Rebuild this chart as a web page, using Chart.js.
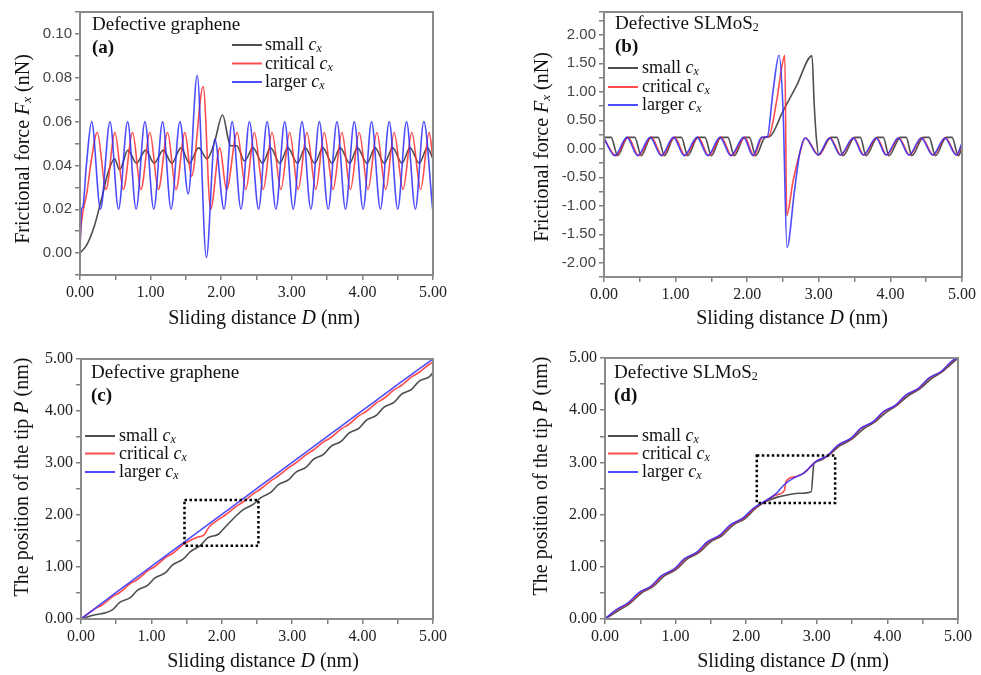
<!DOCTYPE html>
<html>
<head>
<meta charset="utf-8">
<script src="https://cdn.jsdelivr.net/npm/chart.js@4.4.1/dist/chart.umd.min.js"></script>
<style>
  body { margin: 0; background: #fff; width: 981px; height: 675px; position: relative; overflow: hidden; }
  canvas { position: absolute; }
</style>
</head>
<body>
<canvas id="chartA" width="490" height="330" style="left:0;top:0"></canvas>
<canvas id="chartB" width="491" height="330" style="left:490px;top:0"></canvas>
<canvas id="chartC" width="490" height="345" style="left:0;top:330px"></canvas>
<canvas id="chartD" width="491" height="345" style="left:490px;top:330px"></canvas>
<script>
// (a) frictional force, defective graphene
const aSmallD = [0, 0.1, 0.2, 0.3, 0.4, 0.49, 0.56, 0.68, 0.8, 0.93, 1.05, 1.18, 1.3, 1.43, 1.55, 1.68, 1.8, 1.9, 2.02, 2.1, 2.13, 2.22, 2.33, 2.45, 2.585, 2.7, 2.83, 2.945, 3.08, 3.19, 3.325, 3.44, 3.57, 3.685, 3.82, 3.93, 4.065, 4.18, 4.31, 4.43, 4.56, 4.675, 4.805, 4.92, 5.0];
const aSmallF = [0, 0.004, 0.012, 0.024, 0.037, 0.043, 0.038, 0.047, 0.041, 0.047, 0.041, 0.047, 0.041, 0.048, 0.041, 0.048, 0.043, 0.05, 0.063, 0.052, 0.049, 0.049, 0.042, 0.048, 0.041, 0.048, 0.041, 0.048, 0.041, 0.048, 0.041, 0.048, 0.041, 0.048, 0.041, 0.048, 0.041, 0.048, 0.041, 0.048, 0.041, 0.048, 0.041, 0.048, 0.043];
const aCritD = [0, 0.02, 0.1, 0.15, 0.245, 0.368, 0.495, 0.613, 0.745, 0.863, 0.99, 1.11, 1.24, 1.36, 1.486, 1.58, 1.745, 1.85, 1.98, 2.075, 2.226, 2.35, 2.47, 2.595, 2.72, 2.845, 2.97, 3.09, 3.215, 3.34, 3.46, 3.585, 3.71, 3.83, 3.955, 4.08, 4.205, 4.33, 4.45, 4.575, 4.70, 4.825, 4.945, 5.0];
const aCritF = [0.005, 0.014, 0.028, 0.04, 0.055, 0.029, 0.055, 0.029, 0.055, 0.029, 0.055, 0.029, 0.055, 0.029, 0.055, 0.035, 0.076, 0.02, 0.048, 0.029, 0.055, 0.029, 0.055, 0.029, 0.055, 0.029, 0.055, 0.029, 0.055, 0.029, 0.055, 0.029, 0.055, 0.029, 0.055, 0.029, 0.055, 0.029, 0.055, 0.029, 0.055, 0.029, 0.055, 0.043];
const aLargeD = [0, 0.02, 0.04, 0.09, 0.165, 0.29, 0.425, 0.545, 0.675, 0.795, 0.92, 1.045, 1.17, 1.29, 1.415, 1.533, 1.66, 1.79, 1.91, 2.04, 2.155, 2.28, 2.40, 2.53, 2.65, 2.775, 2.90, 3.02, 3.145, 3.27, 3.39, 3.515, 3.64, 3.76, 3.885, 4.01, 4.13, 4.255, 4.38, 4.50, 4.625, 4.75, 4.87, 4.995];
const aLargeF = [0, 0.02, 0.021, 0.04, 0.06, 0.02, 0.06, 0.02, 0.06, 0.02, 0.06, 0.02, 0.06, 0.02, 0.06, 0.027, 0.081, -0.002, 0.052, 0.02, 0.06, 0.02, 0.06, 0.02, 0.06, 0.02, 0.06, 0.02, 0.06, 0.02, 0.06, 0.02, 0.06, 0.02, 0.06, 0.02, 0.06, 0.02, 0.06, 0.02, 0.06, 0.02, 0.06, 0.02];

// (b) frictional force, defective SLMoS2
const bSmallD = [0, 0.1, 0.19, 0.33, 0.43, 0.52, 0.655, 0.755, 0.845, 0.98, 1.08, 1.17, 1.31, 1.41, 1.5, 1.63, 1.73, 1.82, 1.96, 2.03, 2.12, 2.25, 2.31, 2.5, 2.69, 2.905, 2.935, 2.966, 3.0, 3.17, 3.25, 3.34, 3.5, 3.58, 3.66, 3.82, 3.9, 3.98, 4.14, 4.22, 4.3, 4.46, 4.54, 4.63, 4.78, 4.86, 4.95, 5.0];
const bSmallF = [0.2, 0.2, -0.12, 0.2, 0.2, -0.12, 0.2, 0.2, -0.12, 0.2, 0.2, -0.12, 0.2, 0.2, -0.12, 0.2, 0.2, -0.12, 0.2, 0.2, -0.12, 0.2, 0.21, 0.66, 1.11, 1.63, 0.8, 0.19, -0.1, 0.2, 0.2, -0.12, 0.2, 0.2, -0.12, 0.2, 0.2, -0.12, 0.2, 0.2, -0.12, 0.2, 0.2, -0.12, 0.2, 0.2, -0.12, 0.02];
const bCritD = [0, 0.165, 0.335, 0.485, 0.66, 0.815, 0.985, 1.135, 1.315, 1.465, 1.635, 1.785, 1.965, 2.095, 2.21, 2.3, 2.41, 2.48, 2.525, 2.552, 2.64, 2.73, 2.815, 3.0, 3.16, 3.31, 3.49, 3.63, 3.81, 3.95, 4.12, 4.27, 4.44, 4.6, 4.77, 4.93, 5.0];
const bCritF = [0.18, -0.12, 0.2, -0.12, 0.2, -0.12, 0.2, -0.12, 0.2, -0.12, 0.2, -0.12, 0.2, -0.12, 0.2, 0.22, 0.83, 1.41, 1.64, -1.17, -0.57, -0.1, 0.19, -0.11, 0.19, -0.11, 0.19, -0.11, 0.19, -0.11, 0.19, -0.11, 0.19, -0.11, 0.19, -0.11, 0.08];
const bLargeD = [0, 0.15, 0.32, 0.47, 0.645, 0.8, 0.97, 1.12, 1.3, 1.45, 1.62, 1.77, 1.95, 2.08, 2.2, 2.28, 2.36, 2.444, 2.5, 2.556, 2.66, 2.73, 2.81, 2.99, 3.15, 3.3, 3.48, 3.62, 3.8, 3.94, 4.11, 4.26, 4.43, 4.59, 4.76, 4.92, 5.0];
const bLargeF = [0.18, -0.12, 0.2, -0.12, 0.2, -0.12, 0.2, -0.12, 0.2, -0.12, 0.2, -0.12, 0.2, -0.12, 0.2, 0.21, 1.0, 1.64, 0.71, -1.73, -0.74, -0.1, 0.19, -0.11, 0.19, -0.11, 0.19, -0.11, 0.19, -0.11, 0.19, -0.11, 0.19, -0.11, 0.19, -0.11, 0.1];

// (c) tip position, defective graphene
const cSmallD = [0, 0.2, 0.35, 0.45, 0.55, 0.7, 0.8, 0.95, 1.05, 1.2, 1.3, 1.45, 1.55, 1.7, 1.8, 1.95, 2.05, 2.2, 2.3, 2.45, 2.55, 2.7, 2.8, 2.95, 3.05, 3.2, 3.3, 3.45, 3.55, 3.7, 3.8, 3.95, 4.05, 4.2, 4.3, 4.45, 4.55, 4.7, 4.8, 4.95, 5.0];
const cSmallP = [0, 0.08, 0.12, 0.18, 0.32, 0.41, 0.55, 0.65, 0.79, 0.89, 1.04, 1.15, 1.29, 1.42, 1.56, 1.63, 1.77, 1.98, 2.1, 2.21, 2.33, 2.44, 2.58, 2.68, 2.82, 2.92, 3.07, 3.17, 3.32, 3.42, 3.57, 3.67, 3.82, 3.92, 4.07, 4.17, 4.32, 4.42, 4.57, 4.66, 4.74];
const cCritD = [0, 0.2, 0.3, 0.45, 0.55, 0.7, 0.8, 0.95, 1.05, 1.2, 1.3, 1.45, 1.55, 1.65, 1.75, 1.82, 1.95, 2.05, 2.2, 2.3, 2.45, 2.55, 2.7, 2.8, 2.95, 3.05, 3.2, 3.3, 3.45, 3.55, 3.7, 3.8, 3.95, 4.05, 4.2, 4.3, 4.45, 4.55, 4.7, 4.8, 4.95, 5.0];
const cCritP = [0, 0.2, 0.27, 0.43, 0.51, 0.68, 0.76, 0.93, 1.01, 1.18, 1.26, 1.43, 1.51, 1.57, 1.62, 1.77, 1.91, 2.0, 2.16, 2.25, 2.41, 2.5, 2.66, 2.75, 2.91, 3.0, 3.16, 3.25, 3.41, 3.49, 3.66, 3.74, 3.91, 3.99, 4.16, 4.24, 4.41, 4.49, 4.66, 4.74, 4.9, 4.93];
const cLargeD = [0, 0.5, 1, 1.5, 2, 2.5, 3, 3.5, 4, 4.5, 5];
const cLargeP = [0, 0.51, 1.01, 1.51, 2.01, 2.51, 3.01, 3.51, 4.01, 4.51, 5.0];

// (d) tip position, defective SLMoS2
const dSmallD = [0, 0.19, 0.355, 0.52, 0.68, 0.845, 1.005, 1.17, 1.33, 1.495, 1.655, 1.82, 1.98, 2.14, 2.28, 2.43, 2.6, 2.75, 2.92, 2.96, 3.03, 3.17, 3.33, 3.5, 3.66, 3.82, 3.98, 4.13, 4.3, 4.46, 4.63, 4.78, 4.95, 5.0];
const dSmallP = [0, 0.16, 0.3, 0.5, 0.62, 0.83, 0.945, 1.155, 1.27, 1.48, 1.595, 1.805, 1.92, 2.13, 2.25, 2.33, 2.38, 2.41, 2.44, 2.98, 3.03, 3.14, 3.32, 3.45, 3.64, 3.77, 3.96, 4.09, 4.28, 4.41, 4.61, 4.74, 4.94, 5.0];
const dCritD = [0, 0.165, 0.34, 0.49, 0.665, 0.815, 0.99, 1.14, 1.315, 1.465, 1.64, 1.79, 1.965, 2.115, 2.29, 2.43, 2.54, 2.565, 2.71, 2.82, 2.99, 3.16, 3.31, 3.49, 3.63, 3.81, 3.95, 4.12, 4.27, 4.45, 4.6, 4.77, 4.93, 5.0];
const dCritP = [0, 0.17, 0.31, 0.5, 0.63, 0.83, 0.955, 1.155, 1.28, 1.48, 1.605, 1.805, 1.93, 2.12, 2.27, 2.38, 2.46, 2.64, 2.73, 2.8, 3.02, 3.13, 3.33, 3.46, 3.65, 3.78, 3.97, 4.09, 4.29, 4.42, 4.62, 4.74, 4.95, 5.0];
const dLargeD = [0, 0.15, 0.325, 0.475, 0.65, 0.8, 0.975, 1.125, 1.3, 1.45, 1.625, 1.775, 1.95, 2.1, 2.28, 2.43, 2.5, 2.56, 2.7, 2.82, 2.99, 3.15, 3.3, 3.48, 3.62, 3.8, 3.94, 4.11, 4.26, 4.44, 4.59, 4.76, 4.92, 5.0];
const dLargeP = [0, 0.17, 0.31, 0.5, 0.63, 0.83, 0.955, 1.155, 1.28, 1.48, 1.605, 1.805, 1.93, 2.12, 2.27, 2.41, 2.52, 2.6, 2.72, 2.8, 3.02, 3.13, 3.33, 3.46, 3.65, 3.78, 3.97, 4.09, 4.29, 4.42, 4.62, 4.74, 4.95, 5.0];

// dotted zoom boxes: [D from, D to, P from, P to]
const boxC = [1.47, 2.52, 1.41, 2.29];
const boxD = [2.15, 3.26, 2.22, 3.13];

const seriesNames = ['small', 'critical', 'larger'];
const seriesColors = ['rgba(70,70,70,0.95)', 'rgba(255,45,45,0.85)', 'rgba(45,45,255,0.85)'];

const SERIF = '"Liberation Serif", "Times New Roman", serif';
const SANS = '"Liberation Sans", Arial, sans-serif';

// rich text runs: [text, style]  n normal, i italic, b bold, s subscript, is italic subscript
const legendRuns = seriesNames.map(n => [[n + ' ', 'n'], ['c', 'i'], ['x', 'is']]);
const xTitleRuns = [['Sliding distance ', 'n'], ['D', 'i'], [' (nm)', 'n']];
const forceRuns = [['Frictional force ', 'n'], ['F', 'i'], ['x', 'is'], [' (nN)', 'n']];
const posRuns = [['The position of the tip ', 'n'], ['P', 'i'], [' (nm)', 'n']];
const grapheneRuns = [['Defective graphene', 'n']];
const mosRuns = [['Defective SLMoS', 'n'], ['2', 's']];

function runFont(style, size) {
  const sub = style.includes('s');
  const sz = sub ? Math.round(size * 0.65) : size;
  const it = style.includes('i') ? 'italic ' : '';
  const b = style.includes('b') ? 'bold ' : '';
  return { font: it + b + sz + 'px ' + SERIF, dy: sub ? size * 0.12 : 0 };
}

function drawRich(ctx, runs, x, y, size, align) {
  let total = 0;
  const parts = runs.map(([t, s]) => {
    const f = runFont(s, size);
    ctx.font = f.font;
    const w = ctx.measureText(t).width;
    total += w;
    return { t, f, w };
  });
  let cx = align === 'center' ? x - total / 2 : x;
  ctx.textAlign = 'left';
  ctx.textBaseline = 'alphabetic';
  parts.forEach(p => {
    ctx.font = p.f.font;
    ctx.fillText(p.t, cx, y + p.f.dy);
    cx += p.w;
  });
}

const panels = {
  chartA: { title: grapheneRuns, tag: [['(a)', 'b']], tx: 92, titleY: 30, tagY: 53,
    legend: { x0: 232, x1: 262, tx: 265, ys: [45, 63.5, 82] },
    xTitle: [264, 324], yRuns: forceRuns, yTitle: [29, 149], box: null },
  chartB: { title: mosRuns, tag: [['(b)', 'b']], tx: 125, titleY: 29, tagY: 52,
    legend: { x0: 118, x1: 148, tx: 152, ys: [68, 87, 105] },
    xTitle: [302, 324], yRuns: forceRuns, yTitle: [58, 147], box: null },
  chartC: { title: grapheneRuns, tag: [['(c)', 'b']], tx: 91, titleY: 48, tagY: 71,
    legend: { x0: 85, x1: 115, tx: 119, ys: [106, 123.5, 142] },
    xTitle: [263, 337], yRuns: posRuns, yTitle: [28, 147], box: boxC },
  chartD: { title: mosRuns, tag: [['(d)', 'b']], tx: 124, titleY: 48, tagY: 71,
    legend: { x0: 118, x1: 148, tx: 152, ys: [106, 123.5, 142] },
    xTitle: [303, 337], yRuns: posRuns, yTitle: [57, 146], box: boxD }
};

const panelDeco = {
  id: 'panelDeco',
  afterDatasetsDraw(chart) {
    const cfg = panels[chart.canvas.id];
    const ctx = chart.ctx;
    const a = chart.chartArea;
    ctx.save();
    if (cfg.box) {
      const xs = chart.scales.x, ys = chart.scales.y;
      const x0 = xs.getPixelForValue(cfg.box[0]), x1 = xs.getPixelForValue(cfg.box[1]);
      const y0 = ys.getPixelForValue(cfg.box[3]), y1 = ys.getPixelForValue(cfg.box[2]);
      ctx.setLineDash([2.5, 2.5]);
      ctx.lineWidth = 2.5;
      ctx.strokeStyle = '#000';
      ctx.strokeRect(x0, y0, x1 - x0, y1 - y0);
      ctx.setLineDash([]);
    }
    ctx.strokeStyle = '#8a8a8a';
    ctx.lineWidth = 2;
    ctx.strokeRect(a.left, a.top, a.right - a.left, a.bottom - a.top);

    ctx.fillStyle = '#111';
    drawRich(ctx, cfg.title, cfg.tx, cfg.titleY, 19);
    drawRich(ctx, cfg.tag, cfg.tx, cfg.tagY, 19);

    chart.data.datasets.forEach((ds, i) => {
      const y = cfg.legend.ys[i];
      ctx.strokeStyle = ds.borderColor;
      ctx.lineWidth = 2;
      ctx.beginPath();
      ctx.moveTo(cfg.legend.x0, y);
      ctx.lineTo(cfg.legend.x1, y);
      ctx.stroke();
      ctx.fillStyle = '#111';
      drawRich(ctx, legendRuns[i], cfg.legend.tx, y + 5, 18);
    });

    drawRich(ctx, xTitleRuns, cfg.xTitle[0], cfg.xTitle[1], 20, 'center');
    ctx.translate(cfg.yTitle[0], cfg.yTitle[1]);
    ctx.rotate(-Math.PI / 2);
    drawRich(ctx, cfg.yRuns, 0, 0, 20, 'center');
    ctx.restore();
  }
};

function pts(xs, ys) {
  return xs.map((x, i) => ({ x, y: ys[i] }));
}

function labelEvery(major) {
  return v => {
    const r = v / major;
    if (Math.abs(r - Math.round(r)) > 1e-6) return '';
    return (Math.abs(v) < 1e-9 ? 0 : v).toFixed(2);
  };
}

function axis(pos, min, max, step, major, family, size, color, fit) {
  return {
    type: 'linear',
    position: pos,
    min: min,
    max: max,
    bounds: 'data',
    grid: { drawOnChartArea: false, drawTicks: true, tickLength: 5, color: '#808080', lineWidth: 1.5 },
    border: { display: false },
    ticks: {
      stepSize: step,
      includeBounds: false,
      autoSkip: false,
      maxRotation: 0,
      padding: 3,
      color: color,
      font: { family: family, size: size },
      callback: labelEvery(major)
    },
    afterFit: s => { if (pos === 'left') s.width = fit; else s.height = fit; }
  };
}

function makeChart(id, series, yAxis, xFit, pad) {
  const datasets = series.map((s, i) => ({
    label: seriesNames[i] + ' c_x',
    data: pts(s[0], s[1]),
    borderColor: seriesColors[i],
    borderWidth: 1.6,
    pointRadius: 0,
    fill: false,
    cubicInterpolationMode: 'monotone',
    order: 2 - i
  }));
  new Chart(document.getElementById(id), {
    type: 'line',
    data: { datasets },
    options: {
      responsive: false,
      animation: false,
      events: [],
      layout: { padding: pad },
      scales: {
        x: axis('bottom', 0, 5, 0.5, 1, SERIF, 16, '#222', xFit),
        y: yAxis
      },
      plugins: { legend: { display: false }, tooltip: { enabled: false } }
    },
    plugins: [panelDeco]
  });
}

makeChart('chartA', [[aSmallD, aSmallF], [aCritD, aCritF], [aLargeD, aLargeF]],
  axis('left', -0.01, 0.11, 0.01, 0.02, SANS, 15, '#444', 80), 55,
  { top: 12, right: 57, left: 0, bottom: 0 });
makeChart('chartB', [[bSmallD, bSmallF], [bCritD, bCritF], [bLargeD, bLargeF]],
  axis('left', -2.25, 2.4, 0.25, 0.5, SANS, 15, '#444', 114), 53,
  { top: 10, right: 19, left: 0, bottom: 0 });
makeChart('chartC', [[cSmallD, cSmallP], [cCritD, cCritP], [cLargeD, cLargeP]],
  axis('left', 0, 5, 0.5, 1, SERIF, 16, '#222', 81), 56,
  { top: 29, right: 57, left: 0, bottom: 0 });
makeChart('chartD', [[dSmallD, dSmallP], [dCritD, dCritP], [dLargeD, dLargeP]],
  axis('left', 0, 5, 0.5, 1, SERIF, 16, '#222', 115), 56,
  { top: 28, right: 23, left: 0, bottom: 0 });
</script>
</body>
</html>
